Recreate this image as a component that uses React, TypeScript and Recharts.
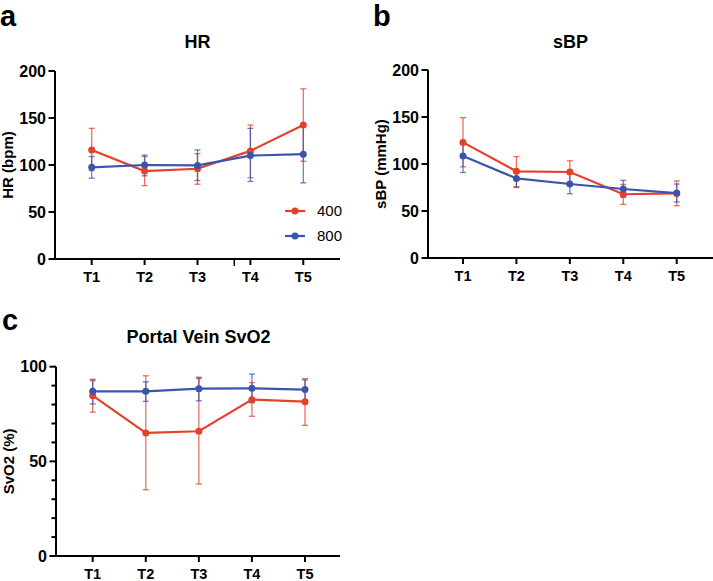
import React from 'react';
import { LineChart, Line, XAxis, YAxis, ErrorBar, Legend } from 'recharts';

const categories = ['T1', 'T2', 'T3', 'T4', 'T5'];
const seriesNames = ['400', '800'];

// HR (bpm)
const hr400Mean = [116, 93.5, 96, 115, 142.5];
const hr400Low = [94, 78, 79.5, 86.5, 104];
const hr400High = [139, 109, 112, 142.5, 181];
const hr800Mean = [97.5, 100, 99.6, 110, 111.5];
const hr800Low = [86, 88.5, 83.5, 82.5, 81];
const hr800High = [109, 110.5, 116, 139, 141.5];

// sBP (mmHg)
const sbp400Mean = [123, 92.2, 91.5, 67.8, 68.7];
const sbp400Low = [97, 76, 80, 57, 55.6];
const sbp400High = [149.3, 108, 103.5, 78.3, 82];
const sbp800Mean = [108.5, 84.7, 78.7, 73.4, 69.1];
const sbp800Low = [91, 75, 68.4, 64.5, 59.6];
const sbp800High = [125, 94, 90.4, 82.6, 78.7];

// Portal vein SvO2 (%)
const svo400Mean = [84.7, 65, 65.9, 82.6, 81.5];
const svo400Low = [76, 35, 38, 73.8, 69];
const svo400High = [92.6, 95.2, 93.7, 91.6, 93.7];
const svo800Mean = [87, 87, 88.4, 88.6, 87.9];
const svo800Low = [80.3, 81.7, 82, 81, 82.4];
const svo800High = [93.3, 92, 94.4, 96.1, 93];

const hrTicks = [0, 50, 100, 150, 200];
const sbpTicks = [0, 50, 100, 150, 200];
const svoTicks = [0, 10, 20, 30, 40, 50, 60, 70, 80, 90, 100];
const svoMajor = [0, 50, 100];

const RED = '#E6402B';
const BLUE = '#3A55AD';
const FONT = '"Liberation Sans", Arial, Helvetica, sans-serif';

function buildRows(
  m1: number[], l1: number[], h1: number[],
  m2: number[], l2: number[], h2: number[]
) {
  return categories.map((c, i) => ({
    cat: c,
    s400: m1[i],
    e400: [m1[i] - l1[i], h1[i] - m1[i]],
    s800: m2[i],
    e800: [m2[i] - l2[i], h2[i] - m2[i]],
  }));
}

const hrRows = buildRows(hr400Mean, hr400Low, hr400High, hr800Mean, hr800Low, hr800High);
const sbpRows = buildRows(sbp400Mean, sbp400Low, sbp400High, sbp800Mean, sbp800Low, sbp800High);
const svoRows = buildRows(svo400Mean, svo400Low, svo400High, svo800Mean, svo800Low, svo800High);

const makeYTick = (major: number[]) => (props: any) => {
  const { x, y, payload } = props;
  const isMajor = major.includes(payload.value);
  return (
    <g>
      <line x1={x - (isMajor ? 6.5 : 4.5)} x2={x} y1={y} y2={y} stroke="#000" strokeWidth={2} />
      {isMajor && (
        <text
          x={x - 9}
          y={y}
          dy="0.36em"
          textAnchor="end"
          fontFamily={FONT}
          fontWeight="bold"
          fontSize={16}
          fill="#000"
        >
          {payload.value}
        </text>
      )}
    </g>
  );
};

const LegendContent = (props: any) => {
  const payload = (props.payload || []).filter((p: any) => seriesNames.includes(String(p.value)));
  return (
    <div style={{ fontFamily: FONT }}>
      {payload.map((p: any) => (
        <div key={p.value} style={{ display: 'flex', alignItems: 'center', height: 25.3 }}>
          <svg width={22} height={10} style={{ display: 'block' }}>
            <line x1={1} x2={21} y1={5} y2={5} stroke={p.color} strokeWidth={2.2} />
            <circle cx={11} cy={5} r={3.5} fill={p.color} />
          </svg>
          <span style={{ marginLeft: 11, fontSize: 15, color: '#000', lineHeight: '15px' }}>{p.value}</span>
        </div>
      ))}
    </div>
  );
};

type PanelProps = {
  rows: any[];
  width: number;
  height: number;
  top: number;
  domainMax: number;
  ticks: number[];
  major: number[];
  yLabel: string;
  padL: number;
  padR: number;
  showLegend?: boolean;
};

function Panel({ rows, width, height, top, domainMax, ticks, major, yLabel, padL, padR, showLegend }: PanelProps) {
  return (
    <LineChart
      width={width}
      height={height}
      data={rows}
      margin={{ top, right: 0, bottom: 0, left: 0 }}
    >
      <XAxis
        dataKey="cat"
        padding={{ left: padL, right: padR }}
        axisLine={{ stroke: '#000', strokeWidth: 2 }}
        tickLine={{ stroke: '#000', strokeWidth: 2 }}
        tickSize={6}
        tickMargin={7}
        height={30}
        tick={{ fill: '#000', fontSize: 14.5, fontWeight: 'bold', fontFamily: FONT }}
        interval={0}
      />
      <YAxis
        width={55}
        domain={[0, domainMax]}
        ticks={ticks}
        interval={0}
        type="number"
        allowDataOverflow
        axisLine={{ stroke: '#000', strokeWidth: 2 }}
        tickLine={false}
        tickSize={0}
        tickMargin={0}
        tick={makeYTick(major)}
        label={{
          value: yLabel,
          angle: -90,
          position: 'center',
          dx: -20,
          style: { fontFamily: FONT, fontWeight: 'bold', fontSize: 15, fill: '#000' },
        }}
      />
      <Line
        dataKey="s400"
        name="400"
        stroke={RED}
        strokeWidth={2.2}
        dot={{ r: 3.5, fill: RED, stroke: RED, strokeWidth: 0 }}
        isAnimationActive={false}
      >
        <ErrorBar dataKey="e400" width={3} stroke={RED} strokeWidth={1.3} strokeOpacity={0.75} isAnimationActive={false} />
      </Line>
      <Line
        dataKey="s800"
        name="800"
        stroke={BLUE}
        strokeWidth={2.2}
        dot={{ r: 3.5, fill: BLUE, stroke: BLUE, strokeWidth: 0 }}
        isAnimationActive={false}
      >
        <ErrorBar dataKey="e800" width={3} stroke={BLUE} strokeWidth={1.3} strokeOpacity={0.75} isAnimationActive={false} />
      </Line>
      {showLegend && (
        <Legend
          layout="horizontal"
          verticalAlign="middle"
          align="center"
          content={<LegendContent />}
          wrapperStyle={{ left: 284, top: 198, width: 60 }}
        />
      )}
    </LineChart>
  );
}

export default function App() {
  return (
    <div style={{ position: 'absolute', left: 0, top: 0, width: 713, height: 581, background: '#fff', overflow: 'hidden' }}>
      <div style={{ position: 'absolute', left: 0, top: 0 }}>
        <Panel rows={hrRows} width={340} height={289} top={71} domainMax={200} ticks={hrTicks} major={hrTicks}
          yLabel="HR (bpm)" padL={36.7} padR={36.7} showLegend />
      </div>
      <div style={{ position: 'absolute', left: 373, top: 0 }}>
        <Panel rows={sbpRows} width={340} height={288} top={70} domainMax={200} ticks={sbpTicks} major={sbpTicks}
          yLabel="sBP (mmHg)" padL={35} padR={36.3} />
      </div>
      <div style={{ position: 'absolute', left: 1, top: 300 }}>
        <Panel rows={svoRows} width={339} height={286} top={66.7} domainMax={100} ticks={svoTicks} major={svoMajor}
          yLabel="SvO2 (%)" padL={36.7} padR={35} />
      </div>
      <svg width={713} height={581} style={{ position: 'absolute', left: 0, top: 0, pointerEvents: 'none' }}>
        <g fontFamily={FONT} fontWeight="bold" fill="#000">
          <text x={0} y={26} fontSize={29}>a</text>
          <text x={373} y={26} fontSize={29}>b</text>
          <text x={2} y={330} fontSize={29}>c</text>
          <text x={197.5} y={48.3} fontSize={18} textAnchor="middle">HR</text>
          <text x={570.5} y={48.3} fontSize={18} textAnchor="middle">sBP</text>
          <text x={198.5} y={343.3} fontSize={18} textAnchor="middle">Portal Vein SvO2</text>
        </g>
        <line x1={234.3} x2={234.3} y1={259} y2={266} stroke="#000" strokeWidth={1.5} />
      </svg>
    </div>
  );
}
